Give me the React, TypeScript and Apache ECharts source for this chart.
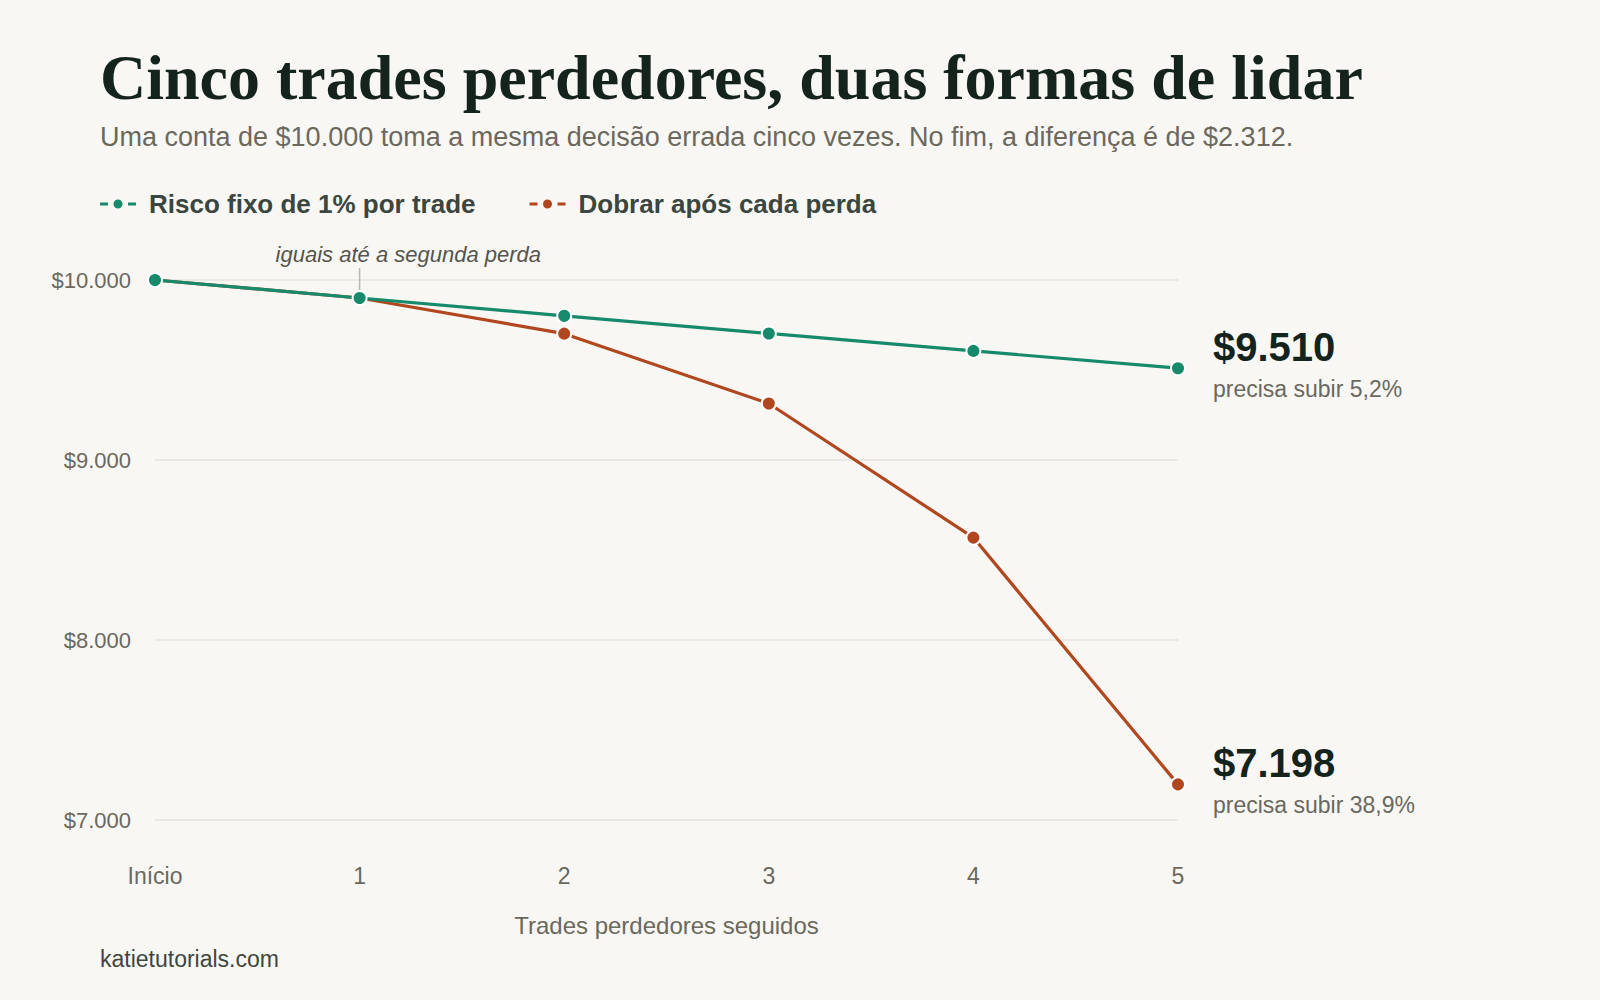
import * as echarts from 'echarts';
import { useEffect, useRef } from 'react';

const CATEGORIES = ['Início', '1', '2', '3', '4', '5'];
const FIXED_RISK = [10000, 9900, 9801, 9703, 9606, 9510];
const DOUBLE_UP = [10000, 9900, 9702, 9314, 8569, 7198];
const Y_TICKS = [7000, 8000, 9000, 10000];

const END_VALUES = ['$9.510', '$7.198'];
const END_NOTES = ['precisa subir 5,2%', 'precisa subir 38,9%'];

const GREEN = '#168a6b';
const ORANGE = '#b1471f';
const INK = '#14231c';
const MUTED = '#6b685d';
const BG = '#f8f7f3';
const SANS = '"Liberation Sans", Arial, sans-serif';
const SERIF = '"Liberation Serif", "DejaVu Serif", serif';

const LEGEND_ICON = 'path://M0 3.6h8v2.8h-8Z M13.5 5a4.5 4.5 0 1 0 9 0a4.5 4.5 0 1 0 -9 0Z M28 3.6h8v2.8h-8Z';

const fmtMoney = (v: number) => '$' + v.toLocaleString('de-DE');

function endLabel(idx: number) {
  return {
    show: true,
    position: 'right',
    distance: 27,
    formatter: `{v|${END_VALUES[idx]}}\n{n|${END_NOTES[idx]}}`,
    rich: {
      v: { fontFamily: SANS, fontSize: 40, fontWeight: 'bold', color: INK, lineHeight: 42 },
      n: { fontFamily: SANS, fontSize: 23, color: MUTED, lineHeight: 42 },
    },
  };
}

function withEndLabel(values: number[], idx: number) {
  return values.map((v, i) => (i === values.length - 1 ? { value: v, label: endLabel(idx) } : v));
}

export default function App() {
  const chartRef = useRef<HTMLDivElement>(null);

  useEffect(() => {
    document.body.style.margin = '0';
    document.body.style.background = BG;
    if (!chartRef.current) return;
    const chart = echarts.init(chartRef.current, null, { renderer: 'svg' });

    chart.setOption({
      animation: false,
      backgroundColor: BG,
      title: [
        {
          text: 'Cinco trades perdedores, duas formas de lidar',
          left: 95,
          top: 40,
          textStyle: { fontFamily: SERIF, fontSize: 64, fontWeight: 'bold', color: INK },
        },
        {
          text: 'Uma conta de $10.000 toma a mesma decisão errada cinco vezes. No fim, a diferença é de $2.312.',
          left: 95,
          top: 118,
          textStyle: { fontFamily: SANS, fontSize: 27, fontWeight: 'normal', color: MUTED },
        },
        {
          text: 'katietutorials.com',
          left: 95,
          top: 942,
          textStyle: { fontFamily: SANS, fontSize: 23, fontWeight: 'normal', color: '#3f4640' },
        },
      ],
      legend: {
        left: 95,
        top: 186,
        data: ['Risco fixo de 1% por trade', 'Dobrar após cada perda'],
        icon: LEGEND_ICON,
        itemWidth: 36,
        itemHeight: 10,
        itemGap: 54,
        itemStyle: { borderWidth: 0 },
        textStyle: { fontFamily: SANS, fontSize: 26, fontWeight: 'bold', color: '#3a463f', padding: [0, 0, 0, 8] },
      },
      grid: { left: 155, right: 422, top: 280, bottom: 180 },
      xAxis: {
        type: 'category',
        data: CATEGORIES,
        boundaryGap: false,
        name: 'Trades perdedores seguidos',
        nameLocation: 'middle',
        nameGap: 93,
        nameTextStyle: { fontFamily: SANS, fontSize: 24, color: MUTED },
        axisLine: { show: false },
        axisTick: { show: false },
        axisLabel: { fontFamily: SANS, fontSize: 23, color: MUTED, margin: 44 },
      },
      yAxis: {
        type: 'value',
        min: Y_TICKS[0],
        max: Y_TICKS[Y_TICKS.length - 1],
        interval: 1000,
        axisLine: { show: false },
        axisTick: { show: false },
        axisLabel: { fontFamily: SANS, fontSize: 22, color: MUTED, margin: 24, formatter: fmtMoney },
        splitLine: { lineStyle: { color: '#e6e4de', width: 1.5 } },
      },
      series: [
        {
          name: 'Dobrar após cada perda',
          type: 'line',
          data: withEndLabel(DOUBLE_UP, 1),
          symbol: 'circle',
          symbolSize: 14,
          color: ORANGE,
          lineStyle: { color: ORANGE, width: 3.2 },
          itemStyle: { color: ORANGE, borderColor: '#ffffff', borderWidth: 2 },
          z: 2,
        },
        {
          name: 'Risco fixo de 1% por trade',
          type: 'line',
          data: withEndLabel(FIXED_RISK, 0),
          symbol: 'circle',
          symbolSize: 14,
          color: GREEN,
          lineStyle: { color: GREEN, width: 3.2 },
          itemStyle: { color: GREEN, borderColor: '#ffffff', borderWidth: 2 },
          z: 3,
        },
      ],
    });

    // annotation anchored on the first loss point
    const [px, py] = chart.convertToPixel({ gridIndex: 0 }, [1, FIXED_RISK[1]]) as number[];
    chart.setOption({
      graphic: [
        {
          type: 'line',
          shape: { x1: px, y1: py - 30, x2: px, y2: py - 7 },
          style: { stroke: '#b9b7b0', lineWidth: 1.5 },
          z: 1,
        },
        {
          type: 'text',
          x: px - 84,
          y: py - 44,
          style: {
            text: 'iguais até a segunda perda',
            fontFamily: SANS,
            fontSize: 22,
            fontStyle: 'italic',
            fill: '#55544c',
            textVerticalAlign: 'middle',
          },
        },
      ],
    });

    return () => chart.dispose();
  }, []);

  return <div ref={chartRef} style={{ width: 1600, height: 1000 }} />;
}
